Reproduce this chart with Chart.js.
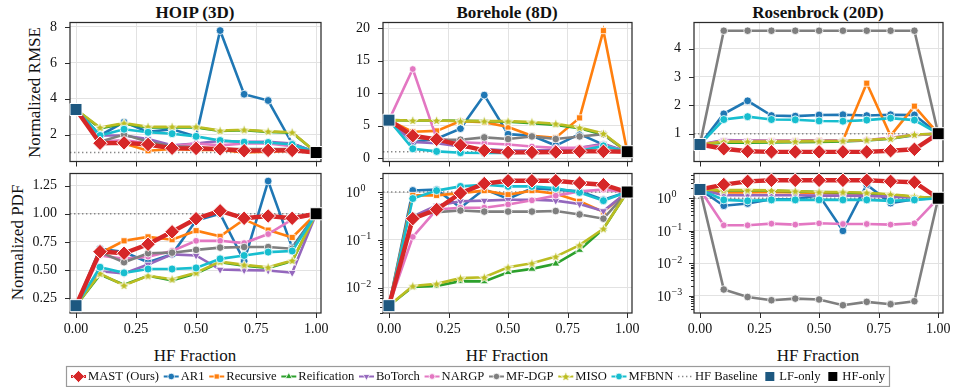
<!DOCTYPE html>
<html>
<head>
<meta charset="utf-8">
<script src="https://cdn.jsdelivr.net/npm/chart.js@4.4.1/dist/chart.umd.min.js"></script>
<style>
  body { margin: 0; background: #fff; width: 953px; height: 387px; position: relative; overflow: hidden;
         font-family: "Liberation Serif", "Times New Roman", serif; color: #111; }
  canvas { position: absolute; }
  .title { position: absolute; top: 4px; font-weight: bold; font-size: 17px; line-height: 17px; text-align: center; width: 260px; }
  .xlab { position: absolute; top: 347px; font-size: 17px; line-height: 17px; text-align: center; width: 260px; }
  .ylab { position: absolute; font-size: 17px; line-height: 17px; width: 200px; text-align: center; transform: rotate(-90deg); }
</style>
</head>
<body>
<div class="title" style="left:65px">HOIP (3D)</div>
<div class="title" style="left:377px">Borehole (8D)</div>
<div class="title" style="left:688px">Rosenbrock (20D)</div>
<div class="ylab" style="left:-66px; top:84px">Normalized RMSE</div>
<div class="ylab" style="left:-83px; top:234px">Normalized PDF</div>
<div class="xlab" style="left:65px">HF Fraction</div>
<div class="xlab" style="left:377px">HF Fraction</div>
<div class="xlab" style="left:688px">HF Fraction</div>
<canvas id="legend" width="953" height="26" style="left:0; top:362px"></canvas>
<script>
// ---- data -------------------------------------------------------------
const methods = ['MAST (Ours)', 'AR1', 'Recursive', 'Reification', 'BoTorch', 'NARGP', 'MF-DGP', 'MISO', 'MFBNN'];
const hfFractions = [0.1, 0.2, 0.3, 0.4, 0.5, 0.6, 0.7, 0.8, 0.9];
const fractionTicks = [0, 0.25, 0.5, 0.75, 1];

// single-fidelity references, normalized so that HF-only = 1
const lfOnlyRmse = [3.4, 5.85, 0.62];   // HOIP, Borehole, Rosenbrock
const lfOnlyPdf = [0.185, 0.0042, 1.86];
const hfOnly = 1;
const hfBaseline = 1;

// rows follow the order of `methods`
const hoipRmse = [
  [1.52, 1.54, 1.45, 1.24, 1.23, 1.2, 1.1, 1.12, 1.12],
  [1.95, 2.7, 2.15, 2.3, 1.9, 7.8, 4.25, 3.9, 1.5],
  [1.6, 1.5, 1.1, 1.2, 1.15, 1.15, 1.0, 1.05, 1.1],
  [2.35, 2.6, 2.4, 2.4, 2.4, 2.2, 2.25, 2.15, 2.1],
  [1.95, 1.95, 1.75, 1.4, 1.5, 1.65, 1.6, 1.6, 1.5],
  [1.6, 1.7, 1.5, 1.35, 1.5, 1.4, 1.5, 1.5, 1.35],
  [1.6, 2.0, 1.6, 1.35, 1.3, 1.2, 1.2, 1.2, 1.2],
  [2.4, 2.64, 2.44, 2.44, 2.44, 2.22, 2.27, 2.18, 2.13],
  [1.95, 2.3, 2.13, 2.05, 1.9, 1.67, 1.58, 1.56, 1.45]
];
const boreholeRmse = [
  [3.45, 2.9, 2.0, 1.2, 0.9, 0.9, 0.95, 1.05, 1.05],
  [2.45, 3.0, 4.55, 9.7, 3.7, 3.45, 1.95, 3.7, 2.1],
  [4.06, 4.2, 5.7, 5.55, 4.8, 3.45, 3.15, 6.2, 19.6],
  [5.8, 5.8, 5.75, 5.7, 5.6, 5.4, 5.1, 4.6, 3.6],
  [2.5, 2.3, 1.8, 1.4, 1.2, 1.2, 1.3, 1.6, 2.2],
  [13.7, 3.05, 2.45, 2.3, 2.1, 1.8, 1.6, 1.6, 2.0],
  [3.2, 2.85, 2.85, 3.2, 2.95, 3.35, 2.95, 3.35, 3.7],
  [5.8, 5.8, 5.7, 5.7, 5.7, 5.55, 5.3, 4.7, 3.8],
  [1.45, 1.05, 0.85, 0.8, 0.8, 0.85, 0.9, 1.1, 1.9]
];
const rosenbrockRmse = [
  [0.47, 0.38, 0.36, 0.36, 0.36, 0.36, 0.36, 0.4, 0.45],
  [1.7, 2.16, 1.64, 1.62, 1.66, 1.67, 1.64, 1.67, 1.66],
  [0.74, 0.74, 0.75, 0.75, 0.77, 0.76, 2.78, 0.93, 1.97],
  [0.68, 0.68, 0.69, 0.7, 0.71, 0.73, 0.76, 0.82, 0.95],
  [0.78, 0.76, 0.75, 0.75, 0.76, 0.76, 0.78, 0.84, 0.97],
  [0.75, 0.74, 0.74, 0.74, 0.75, 0.75, 0.78, 0.86, 0.96],
  [4.63, 4.63, 4.63, 4.63, 4.63, 4.63, 4.63, 4.63, 4.63],
  [0.72, 0.72, 0.72, 0.73, 0.74, 0.75, 0.78, 0.83, 0.97],
  [1.5, 1.6, 1.5, 1.49, 1.45, 1.44, 1.48, 1.55, 1.48]
];
const hoipPdf = [
  [0.664, 0.65, 0.73, 0.84, 0.956, 1.026, 0.96, 0.98, 0.96],
  [0.69, 0.66, 0.57, 0.64, 0.94, 1.0, 0.58, 1.29, 0.7],
  [0.65, 0.76, 0.795, 0.77, 0.85, 0.8, 0.95, 0.855, 0.79],
  [0.46, 0.37, 0.45, 0.41, 0.47, 0.57, 0.54, 0.52, 0.58],
  [0.49, 0.47, 0.55, 0.64, 0.63, 0.505, 0.5, 0.497, 0.477],
  [0.63, 0.6, 0.62, 0.67, 0.76, 0.76, 0.74, 0.82, 0.95],
  [0.66, 0.57, 0.65, 0.655, 0.68, 0.7, 0.705, 0.705, 0.69],
  [0.47, 0.365, 0.45, 0.42, 0.477, 0.575, 0.547, 0.526, 0.585],
  [0.526, 0.476, 0.51, 0.51, 0.52, 0.6, 0.63, 0.66, 0.67]
];
const boreholePdf = [
  [0.277, 0.43, 0.95, 1.5, 1.72, 1.72, 1.72, 1.54, 1.42],
  [1.08, 1.12, 0.47, 1.15, 0.72, 1.2, 1.12, 1.03, 0.69],
  [0.85, 0.85, 0.95, 1.07, 0.88, 1.07, 0.92, 0.64, 0.385],
  [0.0104, 0.0108, 0.0137, 0.0135, 0.021, 0.0247, 0.0316, 0.0613, 0.17],
  [0.31, 0.52, 0.64, 0.66, 0.69, 0.69, 0.66, 0.56, 0.4],
  [0.115, 0.43, 0.47, 0.47, 0.55, 0.67, 0.84, 1.03, 1.12],
  [0.32, 0.38, 0.41, 0.39, 0.39, 0.39, 0.4, 0.34, 0.277],
  [0.0108, 0.012, 0.0158, 0.0165, 0.0267, 0.0324, 0.0446, 0.0776, 0.171],
  [0.73, 1.07, 1.31, 1.42, 1.31, 1.31, 1.2, 0.98, 0.66]
];
const rosenbrockPdf = [
  [2.63, 3.3, 3.55, 3.55, 3.55, 3.55, 3.55, 3.3, 3.1],
  [0.59, 0.69, 0.93, 0.93, 1.23, 0.1, 2.6, 0.71, 0.93],
  [1.5, 1.5, 1.55, 1.5, 1.45, 1.4, 1.38, 1.25, 1.08],
  [1.72, 1.72, 1.7, 1.62, 1.55, 1.5, 1.42, 1.28, 1.1],
  [1.23, 1.23, 1.23, 1.23, 1.2, 1.2, 1.18, 1.12, 1.05],
  [0.148, 0.148, 0.166, 0.155, 0.17, 0.162, 0.162, 0.155, 0.17],
  [0.00158, 0.00093, 0.00074, 0.00083, 0.00078, 0.00052, 0.00066, 0.00056, 0.00069],
  [1.78, 1.78, 1.74, 1.66, 1.55, 1.55, 1.48, 1.32, 1.12],
  [0.89, 0.83, 0.89, 0.89, 0.89, 0.89, 0.89, 0.83, 0.89]
];

const rmseTicks = [[2, 4, 6, 8], [0, 5, 10, 15, 20], [1, 2, 3, 4]];
const pdfTicks = [[0.25, 0.5, 0.75, 1.0, 1.25], [0.01, 0.1, 1], [0.001, 0.01, 0.1, 1]];

// ---- styles -------------------------------------------------------------
const colors = ['#d62728', '#1f77b4', '#ff7f0e', '#2ca02c', '#9467bd', '#e377c2', '#7f7f7f', '#bcbd22', '#17becf'];
const lfColor = '#1d5880';
const hfColor = '#000000';
const gridColor = '#e2e2e2';
const spineColor = '#2b2b2b';
const serif = '"Liberation Serif", "Times New Roman", serif';

function starImage(r, fill) {
  const c = document.createElement('canvas');
  const s = Math.ceil(2 * r + 3);
  c.width = c.height = s;
  const g = c.getContext('2d');
  g.translate(s / 2, s / 2 + 0.5);
  g.beginPath();
  for (let k = 0; k < 10; k++) {
    const rad = k % 2 ? r * 0.42 : r;
    const a = -Math.PI / 2 + k * Math.PI / 5;
    g.lineTo(rad * Math.cos(a), rad * Math.sin(a));
  }
  g.closePath();
  g.fillStyle = fill;
  g.fill();
  g.strokeStyle = '#fff';
  g.lineWidth = 1;
  g.stroke();
  return c;
}
const misoStar = starImage(5.6, colors[7]);

const markers = ['rectRot', 'circle', 'rect', 'triangle', 'triangle', 'circle', 'circle', misoStar, 'circle'];
const markerRadius = [7.3, 3.9, 4.3, 4.6, 4.6, 3.4, 3.8, 5, 4.0];
const markerRotation = [0, 0, 0, 0, 180, 0, 0, 0, 0];
const lineWidths = [4.4, 2.6, 2.6, 2.6, 2.6, 2.6, 2.6, 2.6, 2.6];

// ---- panel layout -------------------------------------------------------
const cols = [{ left: 70, right: 321 }, { left: 383, right: 632 }, { left: 694, right: 943 }];
const rowsPos = [{ top: 21, bottom: 163 }, { top: 172, bottom: 313 }];
const pad = { left: 60, right: 24, top: 8 };
const xRange = [-0.025, 1.02];

const panels = [
  { values: hoipRmse, lf: lfOnlyRmse[0], col: 0, row: 0, type: 'linear', min: 0.5, max: 8.25, ticks: rmseTicks[0], fmt: v => String(v) },
  { values: boreholeRmse, lf: lfOnlyRmse[1], col: 1, row: 0, type: 'linear', min: -0.5, max: 20.85, ticks: rmseTicks[1], fmt: v => String(v) },
  { values: rosenbrockRmse, lf: lfOnlyRmse[2], col: 2, row: 0, type: 'linear', min: 0.02, max: 4.92, ticks: rmseTicks[2], fmt: v => String(v) },
  { values: hoipPdf, lf: lfOnlyPdf[0], col: 0, row: 1, type: 'linear', min: 0.12, max: 1.357, ticks: pdfTicks[0], fmt: v => v.toFixed(2) },
  { values: boreholePdf, lf: lfOnlyPdf[1], col: 1, row: 1, type: 'logarithmic', min: 0.00295, max: 2.44, ticks: pdfTicks[1] },
  { values: rosenbrockPdf, lf: lfOnlyPdf[2], col: 2, row: 1, type: 'logarithmic', min: 0.00034, max: 5.75, ticks: pdfTicks[2] }
];

function minorLogTicks(min, max) {
  const out = [];
  for (let e = Math.floor(Math.log10(min)); e <= Math.ceil(Math.log10(max)); e++) {
    for (let m = 2; m <= 9; m++) {
      const v = m * Math.pow(10, e);
      if (v >= min && v <= max) out.push(v);
    }
  }
  return out;
}

// spines, outward tick marks, HF baseline and log tick labels
function framePlugin(p, minor) {
  return {
    id: 'frame',
    beforeDatasetsDraw(chart) {
      const { ctx, chartArea: a, scales } = chart;
      ctx.save();
      const yb = scales.y.getPixelForValue(hfBaseline);
      ctx.strokeStyle = '#888888';
      ctx.lineWidth = 1.4;
      ctx.setLineDash([1.4, 2.6]);
      ctx.beginPath();
      ctx.moveTo(a.left, yb);
      ctx.lineTo(a.right, yb);
      ctx.stroke();
      ctx.setLineDash([]);

      ctx.strokeStyle = spineColor;
      ctx.lineWidth = 1;
      ctx.beginPath();
      for (const v of fractionTicks) {
        const px = Math.round(scales.x.getPixelForValue(v)) + 0.5;
        ctx.moveTo(px, a.bottom); ctx.lineTo(px, a.bottom + 5);
      }
      for (const v of p.ticks) {
        const py = Math.round(scales.y.getPixelForValue(v)) + 0.5;
        ctx.moveTo(a.left, py); ctx.lineTo(a.left - 5, py);
      }
      for (const v of minor) {
        const py = Math.round(scales.y.getPixelForValue(v)) + 0.5;
        ctx.moveTo(a.left, py); ctx.lineTo(a.left - 3, py);
      }
      ctx.stroke();

      ctx.lineWidth = 1.25;
      ctx.strokeRect(a.left, a.top, a.right - a.left, a.bottom - a.top);

      if (p.type === 'logarithmic') {
        ctx.fillStyle = '#111';
        ctx.textBaseline = 'alphabetic';
        for (const v of p.ticks) {
          const py = scales.y.getPixelForValue(v);
          const e = Math.round(Math.log10(v));
          const x0 = a.left - 23;
          ctx.font = '14px ' + serif;
          ctx.textAlign = 'right';
          ctx.fillText('10', x0, py + 4.8);
          ctx.font = '10px ' + serif;
          ctx.textAlign = 'left';
          ctx.fillText(e < 0 ? '\u2212' + (-e) : String(e), x0 + 0.5, py - 0.8);
        }
      }
      ctx.restore();
    }
  };
}

function makePanel(p) {
  const c = cols[p.col], r = rowsPos[p.row];
  const bottomRow = p.row === 1;
  const xh = bottomRow ? 30 : 8;
  const w = pad.left + (c.right - c.left) + pad.right;
  const h = pad.top + (r.bottom - r.top) + xh;
  const cv = document.createElement('canvas');
  cv.width = w; cv.height = h;
  cv.style.left = (c.left - pad.left) + 'px';
  cv.style.top = (r.top - pad.top) + 'px';
  document.body.appendChild(cv);

  const minor = p.type === 'logarithmic' ? minorLogTicks(p.min, p.max) : [];
  const n = hfFractions.length + 1;

  const datasets = methods.map((m, i) => ({
    label: m,
    data: [{ x: 0, y: p.lf }]
      .concat(hfFractions.map((f, k) => ({ x: f, y: p.values[i][k] })))
      .concat([{ x: 1, y: hfOnly }]),
    borderColor: colors[i],
    backgroundColor: colors[i],
    borderWidth: lineWidths[i],
    pointStyle: markers[i],
    pointRotation: markerRotation[i],
    pointRadius: ctx => (ctx.dataIndex === 0 || ctx.dataIndex === n) ? 0 : markerRadius[i],
    pointBackgroundColor: colors[i],
    pointBorderColor: '#ffffff',
    pointBorderWidth: i === 0 ? 1 : 0.8,
    order: i === 0 ? 0 : 20 - i,
    clip: false,
    tension: 0
  }));
  datasets.push({
    label: 'LF-only', data: [{ x: 0, y: p.lf }], showLine: false,
    pointStyle: 'rect', pointRadius: 8.5, pointBackgroundColor: lfColor,
    pointBorderColor: '#ffffff', pointBorderWidth: 1, order: -1, clip: false
  });
  datasets.push({
    label: 'HF-only', data: [{ x: 1, y: hfOnly }], showLine: false,
    pointStyle: 'rect', pointRadius: 8.5, pointBackgroundColor: hfColor,
    pointBorderColor: '#ffffff', pointBorderWidth: 1, order: -1, clip: false
  });

  const zeroPad = s => { s.paddingLeft = 0; s.paddingRight = 0; s.paddingTop = 0; s.paddingBottom = 0; };

  new Chart(cv, {
    type: 'line',
    data: { datasets },
    options: {
      responsive: false,
      animation: false,
      devicePixelRatio: 1,
      layout: { padding: { left: 0, right: pad.right, top: pad.top, bottom: 0 } },
      plugins: { legend: { display: false }, tooltip: { enabled: false } },
      scales: {
        x: {
          type: 'linear', min: xRange[0], max: xRange[1],
          afterBuildTicks: s => { s.ticks = fractionTicks.map(v => ({ value: v })); },
          afterFit: s => { s.height = xh; zeroPad(s); },
          grid: { color: gridColor, lineWidth: 1, drawTicks: false },
          border: { display: false },
          ticks: {
            display: bottomRow, autoSkip: false, maxRotation: 0, minRotation: 0, padding: 8,
            color: '#111', font: { family: serif, size: 14 },
            callback: v => Number(v).toFixed(2)
          }
        },
        y: {
          type: p.type, min: p.min, max: p.max,
          afterBuildTicks: s => { s.ticks = p.ticks.map(v => ({ value: v, major: true })); },
          afterFit: s => { s.width = pad.left; zeroPad(s); },
          grid: { color: gridColor, lineWidth: 1, drawTicks: false },
          border: { display: false },
          ticks: {
            autoSkip: false, padding: 13, color: '#111', font: { family: serif, size: 14 },
            callback: v => p.type === 'logarithmic' ? '' : p.fmt(v)
          }
        }
      }
    },
    plugins: [framePlugin(p, minor)]
  });
}

panels.forEach(makePanel);

// ---- legend -------------------------------------------------------------
function drawMarker(ctx, style, radius, rotation, x, y, fill, borderWidth) {
  ctx.fillStyle = fill;
  ctx.strokeStyle = '#ffffff';
  ctx.lineWidth = borderWidth;
  if (Chart.helpers && Chart.helpers.drawPoint) {
    Chart.helpers.drawPoint(ctx, { pointStyle: style, radius, rotation, borderWidth }, x, y);
  } else if (typeof style === 'object') {
    ctx.drawImage(style, x - style.width / 2, y - style.height / 2);
  } else {
    ctx.beginPath(); ctx.arc(x, y, radius, 0, Math.PI * 2); ctx.fill(); ctx.stroke();
  }
}

function drawLegend() {
  const cv = document.getElementById('legend');
  const ctx = cv.getContext('2d');
  const top = 362;
  const box = { left: 66, right: 889, top: 366 - top, bottom: 386 - top };
  const cy = (box.top + box.bottom) / 2 + 0.5;
  ctx.font = '12.6px ' + serif;
  const items = methods.map((m, i) => ({ label: m, kind: 'series', i }))
    .concat([{ label: 'HF Baseline', kind: 'baseline' }, { label: 'LF-only', kind: 'lf' }, { label: 'HF-only', kind: 'hf' }]);
  const handleW = 15, textGap = 2;
  const widths = items.map(it => handleW + textGap + ctx.measureText(it.label).width);
  const inner = (box.right - 4) - (box.left + 5);
  const gap = (inner - widths.reduce((a, b) => a + b, 0)) / (items.length - 1);

  ctx.strokeStyle = '#9a9a9a';
  ctx.lineWidth = 1.2;
  ctx.strokeRect(box.left + 0.5, box.top + 0.5, box.right - box.left, box.bottom - box.top);

  let x = box.left + 5;
  items.forEach((it, k) => {
    const hc = x + handleW / 2;
    ctx.save();
    if (it.kind === 'series') {
      ctx.strokeStyle = colors[it.i];
      ctx.lineWidth = it.i === 0 ? 3 : 2;
      ctx.beginPath(); ctx.moveTo(x, cy); ctx.lineTo(x + handleW, cy); ctx.stroke();
      drawMarker(ctx, markers[it.i], it.i === 0 ? 6 : markerRadius[it.i] * 0.85, markerRotation[it.i], hc, cy, colors[it.i], 0.8);
    } else if (it.kind === 'baseline') {
      ctx.strokeStyle = '#888888';
      ctx.lineWidth = 1.3;
      ctx.setLineDash([1.4, 2.6]);
      ctx.beginPath(); ctx.moveTo(x, cy); ctx.lineTo(x + handleW, cy); ctx.stroke();
    } else {
      ctx.fillStyle = it.kind === 'lf' ? lfColor : hfColor;
      ctx.fillRect(hc - 4.5, cy - 4.5, 9, 9);
    }
    ctx.restore();
    ctx.fillStyle = '#111';
    ctx.font = '12.6px ' + serif;
    ctx.textBaseline = 'middle';
    ctx.textAlign = 'left';
    ctx.fillText(it.label, x + handleW + textGap, cy + 0.5);
    x += widths[k] + gap;
  });
}
drawLegend();
</script>
</body>
</html>
